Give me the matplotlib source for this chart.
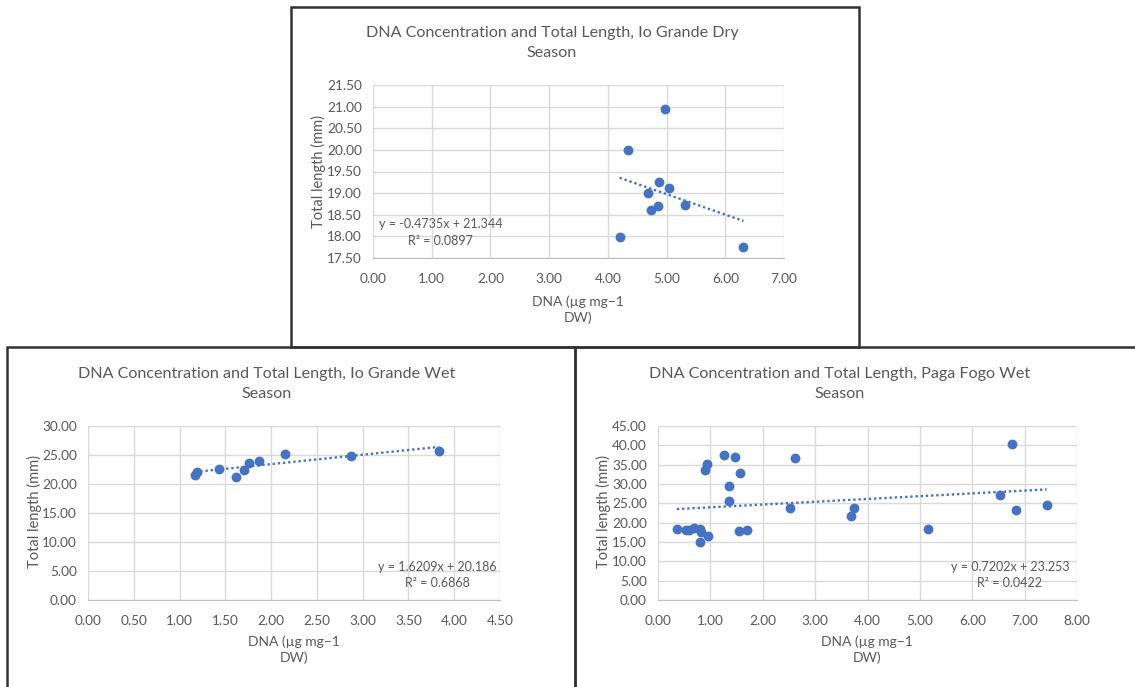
import numpy as np
import matplotlib
matplotlib.use("Agg")
import matplotlib.pyplot as plt
from matplotlib.patches import Rectangle
from matplotlib.ticker import FormatStrFormatter

plt.rcParams['font.family'] = ['Lato', 'DejaVu Sans']

# Io Grande, dry season
dry_dna = [4.97, 4.34, 4.87, 5.04, 4.69, 4.86, 4.73, 5.32, 4.20, 6.31]
dry_len = [20.94, 20.00, 19.25, 19.12, 19.00, 18.71, 18.60, 18.72, 17.98, 17.76]
dry_fit = (-0.4735, 21.344, 0.0897)

# Io Grande, wet season
wet_dna = [1.17, 1.19, 1.43, 1.62, 1.70, 1.76, 1.87, 2.15, 2.87, 3.83]
wet_len = [21.49, 22.01, 22.64, 21.26, 22.36, 23.68, 23.91, 25.23, 24.83, 25.63]
wet_fit = (1.6209, 20.186, 0.6868)

# Paga Fogo, wet season
pf_dna = [0.36, 0.53, 0.59, 0.69, 0.80, 0.82, 0.80, 0.96, 0.89, 0.94,
          1.26, 1.47, 1.56, 1.35, 1.35, 1.54, 1.70, 2.52, 2.62, 3.68,
          3.75, 5.15, 6.53, 6.76, 6.83, 7.42]
pf_len = [18.45, 18.19, 18.19, 18.62, 18.36, 17.67, 14.91, 16.55, 33.71, 35.09,
          37.41, 37.07, 32.93, 29.40, 25.52, 17.84, 18.02, 23.88, 36.64, 21.72,
          23.88, 18.45, 27.07, 40.34, 23.36, 24.66]
pf_fit = (0.7202, 23.253, 0.0422)

W, H = 1135, 687
BLUE = '#4472C4'
GREY = '#595959'
GRID = '#d9d9d9'

fig = plt.figure(figsize=(W / 100, H / 100), dpi=100)


def fx(x):
    return x / W


def fy(y):
    return 1 - y / H


def chart(px, title, title_xy, xlabel_xy, ylabel_xy, eq_xy,
          x, y, fit, xlim, xstep, ylim, ystep):
    x0, x1, yt, yb = px
    ax = fig.add_axes([fx(x0), fy(yb), (x1 - x0) / W, (yb - yt) / H])
    ax.scatter(x, y, s=50, color=BLUE, zorder=3, linewidths=0)
    slope, icept, r2 = fit
    xs = np.array([min(x), max(x)])
    ax.plot(xs, slope * xs + icept, color=BLUE, lw=1.7,
            linestyle=(0, (1, 1.2)), zorder=2)
    ax.set_xlim(*xlim)
    ax.set_ylim(*ylim)
    ax.set_xticks(np.arange(xlim[0], xlim[1] + xstep / 2, xstep))
    ax.set_yticks(np.arange(ylim[0], ylim[1] + ystep / 2, ystep))
    ax.xaxis.set_major_formatter(FormatStrFormatter('%.2f'))
    ax.yaxis.set_major_formatter(FormatStrFormatter('%.2f'))
    ax.tick_params(length=0, labelsize=9.8, colors=GREY, pad=8)
    ax.tick_params(axis='x', pad=11)
    ax.grid(True, color=GRID, lw=1)
    ax.set_axisbelow(True)
    for s in ['top', 'right', 'left']:
        ax.spines[s].set_visible(False)
    ax.spines['bottom'].set_color('#bfbfbf')
    ax.text(eq_xy[0], eq_xy[1],
            'y = %.4fx + %.3f\nR² = %.4f' % (slope, icept, r2),
            transform=ax.transAxes, ha='center', va='center',
            fontsize=9, color=GREY, linespacing=1.45)
    fig.text(fx(title_xy[0]), fy(title_xy[1]), title, ha='center',
             va='center', fontsize=11.6, color=GREY, linespacing=1.5)
    fig.text(fx(xlabel_xy[0]), fy(xlabel_xy[1]), 'DNA (µg mg\u22121\nDW)',
             ha='center', va='center', fontsize=10, color=GREY,
             linespacing=1.3)
    fig.text(fx(ylabel_xy[0]), fy(ylabel_xy[1]), 'Total length (mm)',
             ha='center', va='center', rotation=90, fontsize=10.5,
             color=GREY)
    return ax


chart((373, 784, 85, 258),
      'DNA Concentration and Total Length, Io Grande Dry\nSeason',
      (552, 43), (578, 309.5), (318, 171), (0.165, 0.147),
      dry_dna, dry_len, dry_fit, (0, 7), 1, (17.5, 21.5), 0.5)

chart((88, 500, 426, 600),
      'DNA Concentration and Total Length, Io Grande Wet\nSeason',
      (267, 384), (294, 650), (34, 512), (0.847, 0.144),
      wet_dna, wet_len, wet_fit, (0, 4.5), 0.5, (0, 30), 5)

chart((658, 1077, 426, 600),
      'DNA Concentration and Total Length, Paga Fogo Wet\nSeason',
      (840, 384), (867, 650), (603, 512), (0.840, 0.144),
      pf_dna, pf_len, pf_fit, (0, 8), 1, (0, 45), 5)

# panel borders
for (bx0, by0, bx1, by1) in [(291, 6.5, 859, 347), (6.5, 347, 575, 700),
                             (575, 347, 1145, 700)]:
    fig.add_artist(Rectangle((fx(bx0), fy(by1)), (bx1 - bx0) / W,
                             (by1 - by0) / H, transform=fig.transFigure,
                             fill=False, edgecolor='#333333', lw=1.8))

fig.savefig('out.png', dpi=100, facecolor='white')
